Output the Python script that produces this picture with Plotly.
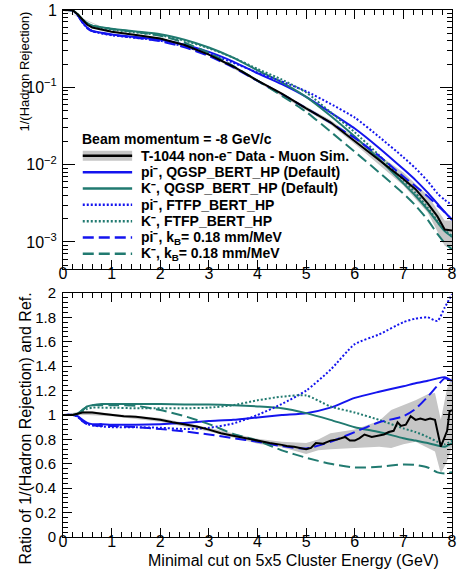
import plotly.graph_objects as go

# ---------------------------------------------------------------- data
# minimal cut on the 5x5 cluster energy (GeV) for the smooth curves
energy_cut = [0, 0.2, 0.3, 0.4, 0.5, 0.6, 0.8, 1, 1.5, 2, 2.5, 3, 3.5, 4, 4.5,
              5, 5.5, 6, 6.5, 7, 7.25, 7.5, 7.7, 7.85, 8]

# 1/(hadron rejection)
data_rej = [1.0, 0.989, 0.879, 0.740, 0.644, 0.594, 0.555, 0.525, 0.476, 0.429,
            0.352, 0.265, 0.186, 0.122, 0.0828, 0.0533, 0.0353, 0.0203, 0.01146,
            0.00652, 0.00481, 0.00316, 0.00214, 0.00145, 0.00141]
pi_qgsp_rej = [1.0, 0.989, 0.863, 0.695, 0.590, 0.538, 0.508, 0.483, 0.446, 0.413,
               0.356, 0.287, 0.215, 0.152, 0.110, 0.0752, 0.0473, 0.0293, 0.01644,
               0.00875, 0.00631, 0.00434, 0.00312, 0.00244, 0.00194]
k_qgsp_rej = [1.0, 0.989, 0.879, 0.753, 0.675, 0.628, 0.598, 0.571, 0.527, 0.486,
              0.412, 0.327, 0.242, 0.166, 0.116, 0.0752, 0.0429, 0.0231, 0.01186,
              0.00573, 0.00396, 0.00261, 0.00180, 0.00138, 0.00116]
pi_ftfp_rej = [1.0, 0.989, 0.857, 0.689, 0.583, 0.532, 0.498, 0.472, 0.436, 0.400,
               0.337, 0.270, 0.208, 0.155, 0.119, 0.0889, 0.0612, 0.0406, 0.0229,
               0.01247, 0.00897, 0.00610, 0.00425, 0.00350, 0.00301]
k_ftfp_rej = [1.0, 0.989, 0.879, 0.746, 0.662, 0.617, 0.582, 0.556, 0.511, 0.471,
              0.401, 0.320, 0.242, 0.173, 0.126, 0.0859, 0.0478, 0.0262, 0.01324,
              0.00630, 0.00431, 0.00278, 0.00187, 0.00142, 0.00120]
pi_kb_rej = [1.0, 0.989, 0.857, 0.689, 0.583, 0.532, 0.500, 0.478, 0.436, 0.395,
             0.329, 0.254, 0.181, 0.121, 0.0817, 0.0537, 0.0348, 0.0221, 0.01297,
             0.00701, 0.00526, 0.00390, 0.00297, 0.00242, 0.00194]
k_kb_rej = [1.0, 0.989, 0.879, 0.753, 0.675, 0.628, 0.593, 0.566, 0.520, 0.465,
            0.377, 0.279, 0.189, 0.122, 0.0778, 0.0482, 0.0268, 0.01466, 0.00794,
            0.00422, 0.00296, 0.00193, 0.00127, 0.00097, 0.00080]

# uncertainty band on the data (upper panel)
band_top_x = [0, 1, 2, 3, 4, 5, 5.5, 6, 6.5, 7, 7.5, 7.85, 8]
band_top_lo = [0.989, 0.515, 0.419, 0.258, 0.1175, 0.0509, 0.0330, 0.01854,
               0.0100, 0.00537, 0.00240, 0.00089, 0.00079]
band_top_hi = [1.0, 0.535, 0.4385, 0.273, 0.126, 0.0558, 0.0378, 0.0223,
               0.0132, 0.00794, 0.00398, 0.00190, 0.00190]

# ratio to the reference
pi_qgsp_ratio = [1, 1, 0.99, 0.96, 0.935, 0.925, 0.925, 0.92, 0.92, 0.925, 0.935,
                 0.95, 0.96, 0.98, 1.0, 1.015, 1.06, 1.14, 1.19, 1.235, 1.26, 1.28,
                 1.30, 1.31, 1.28]
k_qgsp_ratio = [1, 1, 1.01, 1.04, 1.07, 1.08, 1.09, 1.09, 1.09, 1.09, 1.085, 1.085,
                1.08, 1.07, 1.055, 1.015, 0.96, 0.90, 0.86, 0.81, 0.79, 0.77, 0.75,
                0.74, 0.77]
pi_ftfp_ratio = [1, 1, 0.985, 0.95, 0.925, 0.915, 0.905, 0.90, 0.90, 0.895, 0.885,
                 0.895, 0.93, 1.0, 1.09, 1.20, 1.37, 1.58, 1.66, 1.76, 1.79, 1.80,
                 1.77, 1.88, 1.99]
k_ftfp_ratio = [1, 1, 1.01, 1.03, 1.05, 1.06, 1.06, 1.06, 1.055, 1.055, 1.055, 1.06,
                1.08, 1.12, 1.15, 1.16, 1.07, 1.02, 0.96, 0.89, 0.86, 0.82, 0.78,
                0.76, 0.79]
pi_kb_ratio = [1, 1, 0.985, 0.95, 0.925, 0.915, 0.91, 0.91, 0.90, 0.885, 0.865, 0.84,
               0.81, 0.78, 0.745, 0.725, 0.78, 0.86, 0.94, 0.99, 1.05, 1.15, 1.24,
               1.30, 1.28]
k_kb_ratio = [1, 1, 1.01, 1.04, 1.07, 1.08, 1.08, 1.08, 1.075, 1.04, 0.99, 0.925,
              0.845, 0.79, 0.71, 0.65, 0.60, 0.57, 0.575, 0.595, 0.59, 0.57, 0.53,
              0.52, 0.53]

data_x = [0, 0.2, 0.3, 0.4, 0.5, 0.6, 0.8, 1, 1.25, 1.5, 1.75, 2, 2.25, 2.5, 2.75,
          3, 3.25, 3.5, 3.75, 4, 4.25, 4.5, 4.6, 4.75, 4.9, 5.0, 5.1, 5.2, 5.35,
          5.5, 5.65, 5.8, 5.9, 6.0, 6.1, 6.2, 6.35, 6.5, 6.6, 6.7, 6.8, 6.88, 6.95,
          7.05, 7.15, 7.25, 7.35, 7.45, 7.55, 7.65, 7.77, 7.9, 7.95, 8]
data_ratio = [1.0, 1.0, 1.01, 1.02, 1.02, 1.02, 1.01, 1.0, 0.99, 0.985, 0.975, 0.96,
              0.94, 0.925, 0.905, 0.88, 0.85, 0.83, 0.81, 0.785, 0.77, 0.755, 0.745,
              0.74, 0.725, 0.72, 0.73, 0.77, 0.765, 0.79, 0.80, 0.82, 0.79, 0.79,
              0.81, 0.84, 0.82, 0.83, 0.84, 0.86, 0.87, 0.94, 0.91, 0.92, 0.99, 0.96,
              0.97, 0.96, 0.97, 0.96, 0.74, 0.87, 1.03, 1.04]

band_x = [0, 0.5, 1, 2, 3, 4, 4.5, 5, 5.25, 5.5, 6, 6.5, 6.75, 7, 7.25, 7.5, 7.65,
          7.77, 7.9, 8]
band_lo = [0.995, 1.0, 0.99, 0.945, 0.865, 0.765, 0.735, 0.68, 0.71, 0.72, 0.73,
           0.74, 0.73, 0.76, 0.78, 0.73, 0.70, 0.52, 0.62, 0.74]
band_hi = [1.005, 1.035, 1.01, 0.975, 0.895, 0.805, 0.78, 0.77, 0.80, 0.85, 0.88,
           0.95, 1.04, 1.08, 1.12, 1.17, 1.18, 0.96, 1.22, 1.32]

legend_header = "Beam momentum = -8 GeV/c"
legend_labels = [
    "T-1044 non-e\u207b Data - Muon Sim.",
    "pi\u207b, QGSP_BERT_HP (Default)",
    "K\u207b, QGSP_BERT_HP (Default)",
    "pi\u207b, FTFP_BERT_HP",
    "K\u207b, FTFP_BERT_HP",
    "pi\u207b, k<sub>B</sub>= 0.18 mm/MeV",
    "K\u207b, k<sub>B</sub>= 0.18 mm/MeV",
]

# ---------------------------------------------------------------- styles
FONT = "Liberation Sans, Arial, Helvetica, sans-serif"
BLUE = "#1414ee"
TEAL = "#217a70"
GREY = "#c6c6c6"
DASH = "11px,5px"
DOT = "2px,2px"
LW = 2

sim_styles = [
    (BLUE, "solid"),
    (TEAL, "solid"),
    (BLUE, DOT),
    (TEAL, DOT),
    (BLUE, DASH),
    (TEAL, DASH),
]
sim_top = [pi_qgsp_rej, k_qgsp_rej, pi_ftfp_rej, k_ftfp_rej, pi_kb_rej, k_kb_rej]
sim_bot = [pi_qgsp_ratio, k_qgsp_ratio, pi_ftfp_ratio, k_ftfp_ratio, pi_kb_ratio, k_kb_ratio]

fig = go.Figure()

# upper panel: data band, simulations, data
fig.add_trace(go.Scatter(x=band_top_x, y=band_top_lo, mode="lines", line=dict(width=0),
                         showlegend=False, hoverinfo="skip", xaxis="x", yaxis="y"))
fig.add_trace(go.Scatter(x=band_top_x, y=band_top_hi, mode="lines", line=dict(width=0),
                         fill="tonexty", fillcolor=GREY, showlegend=False,
                         hoverinfo="skip", xaxis="x", yaxis="y"))
for ys, (col, dash) in zip(sim_top, sim_styles):
    fig.add_trace(go.Scatter(x=energy_cut, y=ys, mode="lines",
                             line=dict(color=col, width=LW, dash=dash, shape="spline",
                                       smoothing=0.6),
                             showlegend=False, xaxis="x", yaxis="y"))
fig.add_trace(go.Scatter(x=energy_cut, y=data_rej, mode="lines",
                         line=dict(color="black", width=LW),
                         showlegend=False, xaxis="x", yaxis="y"))

# lower panel: ratios
fig.add_trace(go.Scatter(x=band_x, y=band_lo, mode="lines", line=dict(width=0),
                         showlegend=False, hoverinfo="skip", xaxis="x2", yaxis="y2"))
fig.add_trace(go.Scatter(x=band_x, y=band_hi, mode="lines", line=dict(width=0),
                         fill="tonexty", fillcolor=GREY, showlegend=False,
                         hoverinfo="skip", xaxis="x2", yaxis="y2"))
for ys, (col, dash) in zip(sim_bot, sim_styles):
    fig.add_trace(go.Scatter(x=energy_cut, y=ys, mode="lines",
                             line=dict(color=col, width=LW, dash=dash, shape="spline",
                                       smoothing=0.6),
                             showlegend=False, xaxis="x2", yaxis="y2"))
fig.add_trace(go.Scatter(x=data_x, y=data_ratio, mode="lines",
                         line=dict(color="black", width=LW),
                         showlegend=False, xaxis="x2", yaxis="y2"))

# ---------------------------------------------------------------- axes
tickfont = dict(family=FONT, size=16, color="black")
frame = dict(showline=True, linecolor="black", linewidth=1, mirror="allticks",
             ticks="inside", tickcolor="black", showgrid=False, zeroline=False,
             tickfont=tickfont, ticklabeloverflow="allow")

x_common = dict(frame, range=[0, 8], dtick=1, tick0=0, ticklen=9,
                minor=dict(ticks="inside", ticklen=5, dtick=0.2, tickcolor="black",
                           showgrid=False))

log_minor = [k * 10.0 ** e for e in range(-4, 0) for k in range(2, 10)]

fig.update_layout(
    width=458, height=571,
    margin=dict(l=63, r=1, t=8, b=34),
    paper_bgcolor="white", plot_bgcolor="white",
    font=dict(family=FONT, color="black"),
    showlegend=False,
    xaxis=dict(x_common, anchor="y", ticklabelstandoff=-10),
    xaxis2=dict(x_common, anchor="y2", ticklabelstandoff=-10),
    yaxis=dict(frame, type="log", range=[-3.35, 0], domain=[0.5085, 1.0],
               anchor="x", ticklen=12,
               tickvals=[1, 0.1, 0.01, 0.001],
               ticktext=["1", "10<sup>\u22121</sup>", "10<sup>\u22122</sup>",
                         "10<sup>\u22123</sup>"],
               ticklabelstandoff=2,
               minor=dict(ticks="inside", ticklen=5, tickvals=log_minor,
                          tickcolor="black", showgrid=False)),
    yaxis2=dict(frame, range=[0, 2], domain=[0.0, 0.4631], anchor="x2",
                dtick=0.2, tick0=0, ticklen=9, ticklabelstandoff=3,
                tickfont=dict(family=FONT, size=15, color="black"),
                minor=dict(ticks="inside", ticklen=5, dtick=0.04,
                           tickcolor="black", showgrid=False)),
)

# ---------------------------------------------------------------- titles
annotations = [
    dict(text="1/(Hadron Rejection)", textangle=-90, xref="paper", yref="paper",
         x=-0.1015, y=1.0, xanchor="center", yanchor="top", showarrow=False,
         font=dict(family=FONT, size=13, color="black")),
    dict(text="Ratio of 1/(Hadron Rejection) and Ref.", textangle=-90,
         xref="paper", yref="paper", x=-0.0964, y=0.4669, xanchor="center",
         yanchor="top", showarrow=False,
         font=dict(family=FONT, size=16, color="black")),
    dict(text="Minimal cut on 5x5 Cluster Energy (GeV)", xref="paper", yref="paper",
         x=0.972, y=-0.0455, xanchor="right", yanchor="middle", showarrow=False,
         font=dict(family=FONT, size=16, color="black")),
]

# ---------------------------------------------------------------- legend
leg_font = dict(family=FONT, size=14, color="black")
header_y = 0.7543
row_dy = 0.0310
key_x0, key_x1, text_x = 0.0508, 0.1777, 0.1954

annotations.append(dict(text="<b>" + legend_header + "</b>", xref="paper",
                        yref="paper", x=0.0431, y=header_y, xanchor="left",
                        yanchor="middle", showarrow=False, font=leg_font))

shapes = []
key_styles = [("black", "solid")] + sim_styles
for i, (label, (col, dash)) in enumerate(zip(legend_labels, key_styles)):
    yy = header_y - (i + 1) * row_dy
    annotations.append(dict(text="<b>" + label + "</b>", xref="paper", yref="paper",
                            x=text_x, y=yy, xanchor="left", yanchor="middle",
                            showarrow=False, font=leg_font))
    if i == 0:
        shapes.append(dict(type="line", xref="paper", yref="paper", x0=key_x0,
                           x1=key_x1, y0=yy, y1=yy, line=dict(color=GREY, width=10)))
    shapes.append(dict(type="line", xref="paper", yref="paper", x0=key_x0, x1=key_x1,
                       y0=yy, y1=yy, line=dict(color=col, width=LW + 0.5, dash=dash)))

fig.update_layout(annotations=annotations, shapes=shapes)

fig.write_html("out.html")
